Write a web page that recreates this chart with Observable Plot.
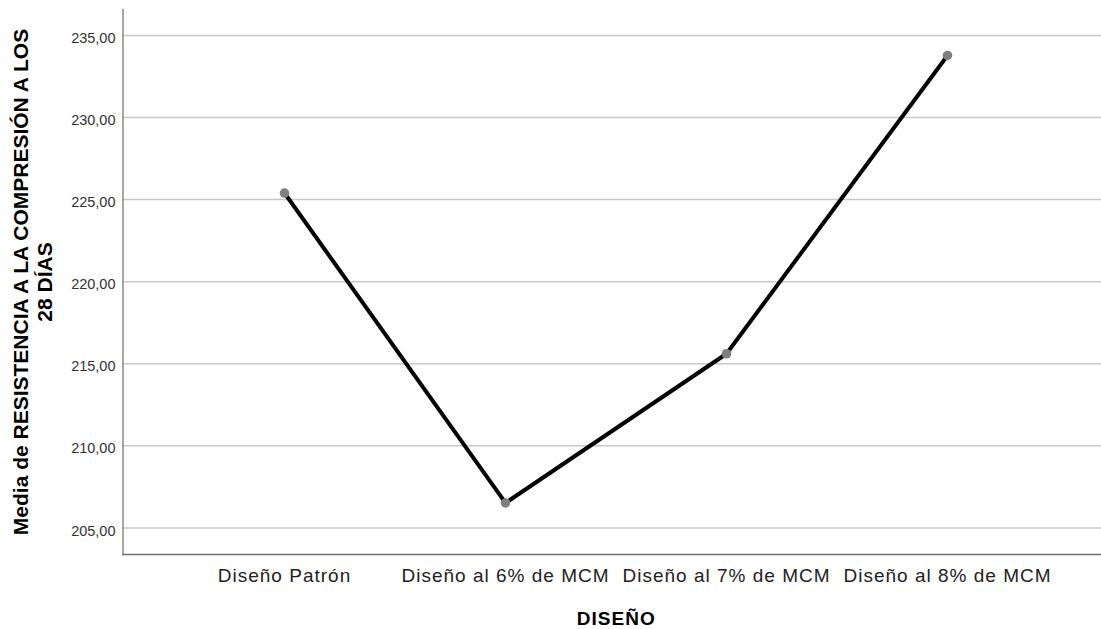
<!DOCTYPE html>
<html><head><meta charset="utf-8">
<script src="https://cdn.jsdelivr.net/npm/d3@7"></script>
<script src="https://cdn.jsdelivr.net/npm/@observablehq/plot@0.6"></script>
<style>body{margin:0;background:#fff} svg{display:block}</style>
</head><body><div id="chart"></div>
<script>
const categories = ["Diseño Patrón", "Diseño al 6% de MCM", "Diseño al 7% de MCM", "Diseño al 8% de MCM"];
const means = [225.40, 206.52, 215.61, 233.78];
const yTicks = [205, 210, 215, 220, 225, 230, 235];
const xTitle = "DISEÑO";
const yTitle = "Media de RESISTENCIA A LA COMPRESIÓN A LOS\n28 DÍAS";

const data = categories.map((c, i) => ({diseno: c, media: means[i]}));
const fmt = d => d.toFixed(2).replace(".", ",");

const chart = Plot.plot({
  width: 1101, height: 629,
  marginLeft: 122.5, marginRight: 0, marginTop: 9, marginBottom: 75,
  style: {fontFamily: "'Liberation Sans', Arial, sans-serif", background: "#fff", overflow: "visible"},
  x: {type: "point", domain: categories, range: [283, 948], padding: 0, label: null},
  y: {domain: [203.38, 236.58], label: null},
  marks: [
    Plot.ruleY(yTicks, {stroke: "#c8c8c8", strokeWidth: 1.5}),
    Plot.frame({anchor: "left", stroke: "#8a8a8a", strokeWidth: 1.5}),
    Plot.frame({anchor: "bottom", stroke: "#6e6e6e", strokeWidth: 1.5}),
    Plot.axisY({ticks: yTicks, tickSize: 0, tickPadding: 7.5, tickFormat: fmt, fontSize: 14.5, fill: "#333", dy: 3, label: null}),
    Plot.axisX({tickSize: 0, tickPadding: 14, fontSize: 19, fill: "#222", label: null, className: "xticks"}),
    Plot.line(data, {x: "diseno", y: "media", stroke: "#000", strokeWidth: 4}),
    Plot.dot(data, {x: "diseno", y: "media", r: 4.8, fill: "#7f7f7f", stroke: "none"}),
    Plot.text([xTitle], {frameAnchor: "bottom", dy: 70, dx: 4, fontSize: 19, fontWeight: "bold", fill: "#000", className: "xtitle"}),
    Plot.text([yTitle], {frameAnchor: "left", textAnchor: "middle", rotate: -90, dx: -90.5, fontSize: 21, fontWeight: "bold", fill: "#000", lineHeight: 1.12})
  ]
});
document.getElementById("chart").appendChild(chart);
d3.select(chart).selectAll(".xticks text").style("letter-spacing", "1px");
d3.select(chart).selectAll(".xtitle text").style("letter-spacing", "1px");
</script>
</body></html>
